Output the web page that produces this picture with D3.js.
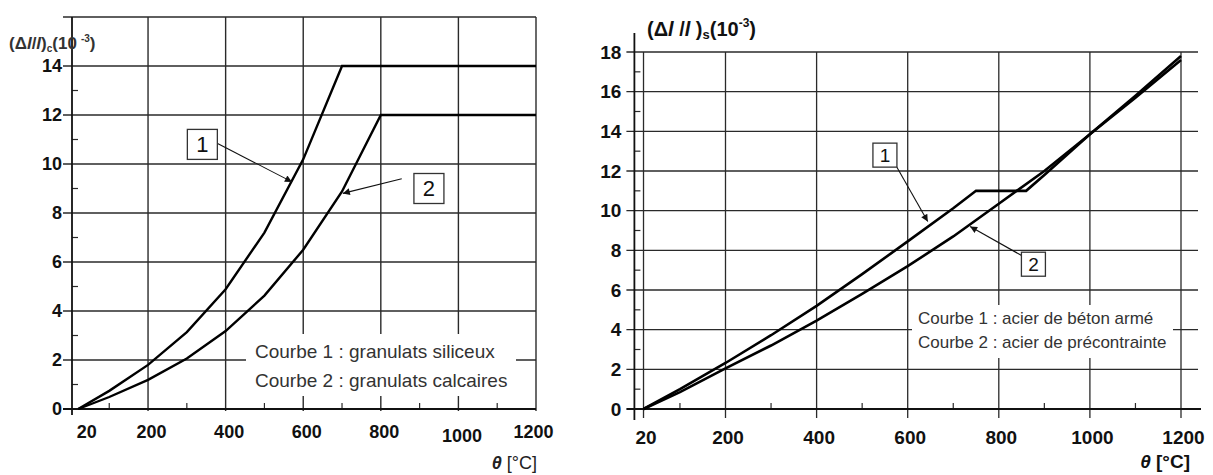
<!DOCTYPE html>
<html><head><meta charset="utf-8">
<script src="https://cdn.jsdelivr.net/npm/d3@7"></script>
<style>
body{margin:0;background:#fff;}
svg{display:block;font-family:"Liberation Sans",Arial,sans-serif;}
</style></head>
<body><svg id="c" width="1213" height="475"></svg>
<script>
// ---------- data (left chart: concrete) ----------
const leftTheta1 = [20,100,200,300,400,500,600,700,1200];
const leftCurve1 = [0,0.74,1.8,3.14,4.89,7.2,10.19,14,14];
const leftTheta2 = [20,100,200,300,400,500,600,700,800,1200];
const leftCurve2 = [0,0.49,1.19,2.06,3.18,4.63,6.5,8.88,12,12];
const leftXTicks = [20,200,400,600,800,1000,1200];
const leftYTicks = [0,2,4,6,8,10,12,14];
const leftLegend = ["Courbe 1 : granulats siliceux","Courbe 2 : granulats calcaires"];
// ---------- data (right chart: steel) ----------
const rightTheta1 = [20,100,200,300,400,500,600,700,750,860,900,1000,1100,1200];
const rightCurve1 = [0,1.0,2.32,3.72,5.2,6.8,8.45,10.12,11,11,11.8,13.85,15.8,17.8];
const rightTheta2 = [20,100,200,300,400,500,600,700,800,900,1000,1100,1200];
const rightCurve2 = [0,0.85,2.05,3.2,4.45,5.8,7.2,8.7,10.35,12.0,13.85,15.7,17.6];
const rightXTicks = [20,200,400,600,800,1000,1200];
const rightYTicks = [0,2,4,6,8,10,12,14,16,18];
const rightLegend = ["Courbe 1 : acier de béton armé","Courbe 2 : acier de précontrainte"];

const svg = d3.select("#c");
const defs = svg.append("defs");
defs.append("marker").attr("id","ah").attr("viewBox","0 0 10 10").attr("refX",10).attr("refY",5)
  .attr("markerWidth",9).attr("markerHeight",7).attr("markerUnits","userSpaceOnUse").attr("orient","auto")
  .append("path").attr("d","M0,0L10,5L0,10Z").attr("fill","#111");

const gridCol = "#2a2a2a";

function drawChart(o){
  const g = svg.append("g");
  const x=o.x, y=o.y;
  const x0 = x.range()[0];
  const yb = y(0);
  g.selectAll(".hg").data(o.hGrid).join("line")
    .attr("x1",x0-o.leftTick).attr("x2",o.hRight).attr("y1",d=>y(d)).attr("y2",d=>y(d))
    .attr("stroke",gridCol).attr("stroke-width",o.gw);
  g.selectAll(".vg").data(o.vGrid).join("line")
    .attr("x1",d=>x(d)).attr("x2",d=>x(d)).attr("y1",y(o.vTop)).attr("y2",yb+o.vBelow)
    .attr("stroke",gridCol).attr("stroke-width",o.gw);
  g.selectAll(".mx").data(o.minorX).join("line")
    .attr("x1",d=>x(d)).attr("x2",d=>x(d)).attr("y1",yb).attr("y2",yb-6)
    .attr("stroke",gridCol).attr("stroke-width",1.2);
  g.selectAll(".my").data(o.minorY).join("line")
    .attr("x1",o.axisX).attr("x2",o.axisX+6).attr("y1",d=>y(d)).attr("y2",d=>y(d))
    .attr("stroke",gridCol).attr("stroke-width",1.2);
  g.append("line").attr("x1",o.axisX).attr("x2",o.axisX).attr("y1",o.axisTop).attr("y2",yb+o.axisBelow)
    .attr("stroke","#111").attr("stroke-width",1.8);
  g.append("line").attr("x1",x0-o.leftTick).attr("x2",o.xAxisRight).attr("y1",yb).attr("y2",yb)
    .attr("stroke","#111").attr("stroke-width",1.8);
  g.append("rect").attr("x",o.legBox[0]).attr("y",o.legBox[1]).attr("width",o.legBox[2]).attr("height",o.legBox[3]).attr("fill","#fff");
  g.selectAll(".lt").data(o.legend).join("text")
    .attr("x",o.legX).attr("y",(d,i)=>o.legY+i*o.legDy)
    .attr("font-size",o.legFs).attr("fill","#333").text(d=>d);
  const line = d3.line().x(d=>x(d[0])).y(d=>y(d[1]));
  o.curves.forEach(c=>{
    g.append("path").datum(d3.zip(c[0],c[1])).attr("d",line)
      .attr("fill","none").attr("stroke","#000").attr("stroke-width",o.cw).attr("stroke-linejoin","miter");
  });
  o.ann.forEach(a=>{
    g.append("line").attr("x1",x(a.from[0])).attr("y1",y(a.from[1])).attr("x2",x(a.to[0])).attr("y2",y(a.to[1]))
      .attr("stroke","#111").attr("stroke-width",1.1).attr("marker-end","url(#ah)");
    const cx=x(a.box[0]), cy=y(a.box[1]);
    g.append("rect").attr("x",cx-o.bw/2).attr("y",cy-o.bh/2).attr("width",o.bw).attr("height",o.bh)
      .attr("fill","#fff").attr("stroke","#333").attr("stroke-width",1.3);
    g.append("text").attr("x",cx).attr("y",cy).attr("dy","0.36em").attr("text-anchor","middle")
      .attr("font-size",o.bfs).attr("fill","#111").text(a.label);
  });
  const ax = g.append("g").attr("transform",`translate(0,${yb})`)
    .call(d3.axisBottom(x).tickValues(o.xTicks).tickSize(0).tickPadding(o.xPad).tickFormat(d3.format("d")));
  ax.select(".domain").remove();
  ax.selectAll("text").attr("font-size",o.tfs).attr("font-weight","bold").attr("fill","#111")
    .attr("font-family","Liberation Sans, Arial, sans-serif")
    .attr("dx",d=>o.xdx(d)).attr("dy",d=>o.xdy(d));
  const ay = g.append("g").attr("transform",`translate(${o.axisX},0)`)
    .call(d3.axisLeft(y).tickValues(o.yTicks).tickSize(0).tickPadding(o.yPad).tickFormat(d3.format("d")));
  ay.select(".domain").remove();
  ay.selectAll("text").attr("font-size",o.tfs).attr("font-weight","bold").attr("fill","#111")
    .attr("font-family","Liberation Sans, Arial, sans-serif");
  return g;
}

// ---- left chart
const xL = d3.scaleLinear().domain([4,1200]).range([72,536]);
const yL = d3.scaleLinear().domain([0,16]).range([409,17]);
drawChart({
  x:xL, y:yL, ymax:16, gw:1.4, cw:2.4,
  hGrid:[2,4,6,8,10,12,14,16], hRight:xL(1200), leftTick:9,
  vGrid:[200,400,600,800,1000,1200], vTop:16, vBelow:2,
  minorX:[100,300,500,700,900,1100], minorY:[1,3,5,7,9,11,13],
  axisX:xL(4), axisTop:yL(16), axisBelow:6, xAxisRight:xL(1200),
  legBox:[246,334,270,62], legend:leftLegend, legX:255, legY:358, legDy:29, legFs:19,
  curves:[[leftTheta1,leftCurve1],[leftTheta2,leftCurve2]],
  ann:[{label:"1",box:[340,10.8],from:[378,10.85],to:[571,9.27]},
       {label:"2",box:[924,9.0],from:[854,9.4],to:[702,8.8]}],
  bw:30, bh:30, bfs:22,
  xTicks:leftXTicks, yTicks:leftYTicks, tfs:18, xPad:16, yPad:10,
  xdx:d=>d===20?"8px":(d===1200?"-3px":"3px"), xdy:d=>d===1000?"0.95em":"0.71em"
});
const tl = svg.append("text").attr("x",9).attr("y",49).attr("font-size",17).attr("font-weight","bold").attr("fill","#333");
tl.append("tspan").text("(Δ");
tl.append("tspan").attr("font-style","italic").text("l");
tl.append("tspan").text("/");
tl.append("tspan").attr("font-style","italic").text("l");
tl.append("tspan").text(")");
tl.append("tspan").attr("font-size",10).attr("dy",3).text("c");
tl.append("tspan").attr("dy",-3).text("(10");
tl.append("tspan").attr("font-size",10).attr("dy",-7).attr("dx",4).text("-3");
tl.append("tspan").attr("dy",7).text(")");
const xtl = svg.append("text").attr("x",537).attr("y",469).attr("text-anchor","end").attr("font-size",18).attr("font-weight","bold").attr("fill","#222");
xtl.append("tspan").attr("font-style","italic").text("θ");
xtl.append("tspan").attr("font-weight","normal").text(" [°C]");

// ---- right chart
const xR = d3.scaleLinear().domain([0,1200]).range([634.4,1181]);
const yR = d3.scaleLinear().domain([0,18]).range([409,52]);
drawChart({
  x:xR, y:yR, ymax:18, gw:1.3, cw:2.6,
  hGrid:[2,4,6,8,10,12,14,16,18], hRight:1198, leftTick:8,
  vGrid:[20,200,400,600,800,1000,1200], vTop:18, vBelow:9,
  minorX:[100,300,500,700,900,1100], minorY:[1,3,5,7,9,11,13,15,17],
  axisX:xR(0), axisTop:33, axisBelow:11, xAxisRight:1201,
  legBox:[912,305,261,53], legend:rightLegend, legX:918, legY:324, legDy:24, legFs:17,
  curves:[[rightTheta1,rightCurve1],[rightTheta2,rightCurve2]],
  ann:[{label:"1",box:[550,12.8],from:[576,12.2],to:[644,9.45]},
       {label:"2",box:[876,7.3],from:[853,7.7],to:[737,9.2]}],
  bw:24, bh:24, bfs:19,
  xTicks:rightXTicks, yTicks:rightYTicks, tfs:19, xPad:22, yPad:13,
  xdx:d=>"2px", xdy:d=>"0.71em"
});
const tr = svg.append("text").attr("x",647).attr("y",36).attr("font-size",20).attr("font-weight","bold").attr("fill","#111");
tr.append("tspan").text("(Δ");
tr.append("tspan").attr("font-style","italic").text("l");
tr.append("tspan").text(" /");
tr.append("tspan").attr("font-style","italic").text("l");
tr.append("tspan").text(" )");
tr.append("tspan").attr("font-size",13).attr("dy",3).text("s");
tr.append("tspan").attr("dy",-3).text("(10");
tr.append("tspan").attr("font-size",12).attr("dy",-9).text("-3");
tr.append("tspan").attr("dy",9).text(")");
const xtr = svg.append("text").attr("x",1190).attr("y",468).attr("text-anchor","end").attr("font-size",19).attr("font-weight","bold").attr("fill","#111");
xtr.append("tspan").attr("font-style","italic").text("θ");
xtr.append("tspan").text(" [°C]");
</script></body></html>
